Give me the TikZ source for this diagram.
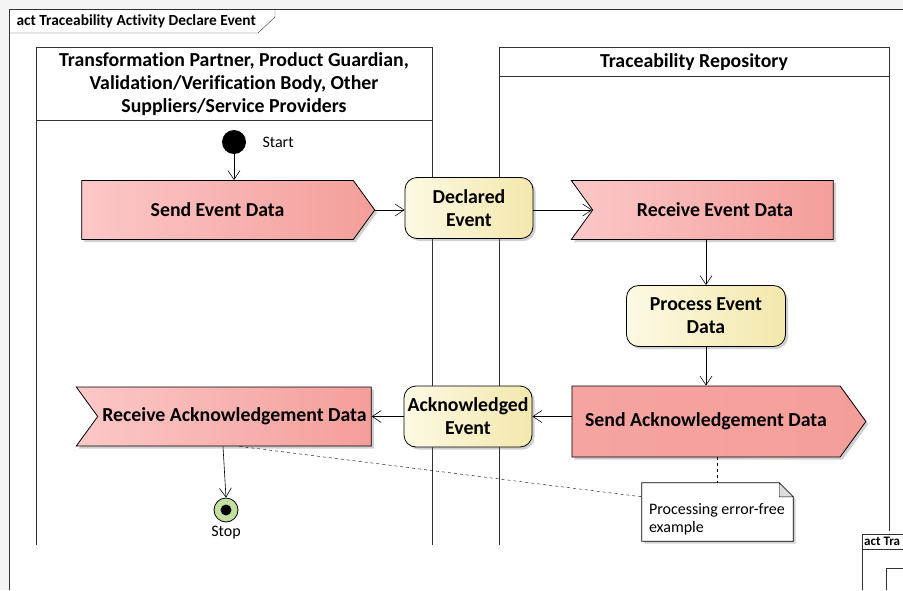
\documentclass[tikz,border=0pt]{standalone}
\usepackage{fontspec}
\setmainfont[Ligatures=NoCommon]{Carlito}
\usetikzlibrary{shapes.symbols,shadows,arrows.meta}

\definecolor{rosepale}{RGB}{251,200,200}
\definecolor{rosefonce}{RGB}{244,158,154}
\definecolor{jaunepale}{RGB}{252,249,228}
\definecolor{jaunefonce}{RGB}{243,232,172}
\definecolor{vertfin}{RGB}{196,224,158}
\definecolor{grisfond}{RGB}{244,244,244}
\definecolor{grispli}{RGB}{221,221,221}
\definecolor{trait}{RGB}{50,50,50}

\begin{document}
\begin{tikzpicture}[x=1pt,y=-1pt]
		\tikzstyle{fleche}=[->,>={Straight Barb[length=9pt,width=12pt]},semithick]
		\tikzstyle{lien}=[dashed,thin]
		\tikzstyle{couloir}=[thick,draw=trait]
		\tikzstyle{gras}=[font=\bfseries\fontsize{19.8}{23}\selectfont]
		\tikzstyle{petit}=[font=\fontsize{16}{18}\selectfont]
		\tikzstyle{titre}=[font=\bfseries\fontsize{15.4}{18}\selectfont]
		\tikzstyle{entete}=[gras,align=center]
		\tikzstyle{ombre}=[drop shadow={shadow xshift=2.5pt,shadow yshift=-2.5pt,opacity=0.3,fill=black!60}]
		\tikzstyle{action}=[draw,thick,rounded corners=12pt,ombre,left color=jaunepale,right color=jaunefonce,minimum height=61pt,align=center,gras]
		\tikzstyle{envoi}=[draw,thick,signal,signal to=east,signal pointer angle=108,ombre,left color=rosepale,right color=rosefonce,minimum height=59pt,inner sep=0pt,gras]
		\tikzstyle{reception}=[envoi,signal to=nowhere,signal from=west]
		
		\useasboundingbox (0,0) rectangle (903,590);
		\fill[grisfond] (0,0) rectangle (903,590);
		\fill[white] (9,9) rectangle (903,590);
		
		% cadre
		\draw[trait] (9,590) -- (9,9) -- (903,9);
		\draw[trait] (9,33) -- (258,33) -- (275,17) -- (275,9);
		\node[anchor=west,titre] (Titre) at (13,21) {act Traceability Activity Declare Event};
		
		% couloirs
		\draw[couloir] (36,545) -- (36,47) -- (432,47) -- (432,545);
		\draw[couloir] (36,120) -- (432,120);
		\draw[couloir] (499,545) -- (499,47) -- (889,47) -- (889,531);
		\draw[couloir] (499,76) -- (889,76);
		\node[entete] (EnteteA) at (234,84) {Transformation Partner, Product Guardian,\\Validation/Verification Body, Other\\Suppliers/Service Providers};
		\node[entete] (EnteteB) at (694,62) {Traceability Repository};
		
		% noeuds
		\node[circle,fill=black,minimum size=24pt,inner sep=0pt] (Debut) at (234,142) {};
		\node[petit,anchor=west] (DebutTxt) at (259,142) {Start};
		\node[envoi,minimum width=293pt] (EnvoiEvt) at (217.5,210) {Send Event Data};
		\node[action,minimum width=128pt] (EvtDeclare) at (469,208) {Declared\\Event};
		\node[reception,minimum width=262pt] (RecEvt) at (713,210) {\hspace*{4pt}Receive Event Data};
		\node[action,minimum width=159pt] (Traiter) at (706,316) {Process Event\\Data};
		\node[envoi,minimum width=294pt,minimum height=71pt,left color=rosefonce!85!rosepale,middle color=rosepale,right color=rosefonce] (EnvoiAcq) at (706,421.5) {Send Acknowledgement Data};
		\node[action,minimum width=128pt] (EvtAcq) at (468,416.5) {Acknowledged\\Event};
		\node[reception,minimum width=295pt] (RecAcq) at (234.5,416.5) {Receive Acknowledgement Data};
		\node[circle,draw,thick,fill=vertfin,minimum size=24pt,inner sep=0pt] (Fin) at (226,510) {};
		\fill (Fin.center) circle (5.5pt);
		\node[petit,below=0pt] (FinTxt) at (Fin.south) {Stop};
		
		% note
		\node[minimum width=151pt,minimum height=58pt,inner sep=0pt] (Note) at (717.5,512) {};
		\draw[thick,fill=white,ombre] (Note.north west) -- ([xshift=-14pt]Note.north east) -- ([yshift=-14pt]Note.north east) -- (Note.south east) -- (Note.south west) -- cycle;
		\draw[fill=grispli] ([xshift=-14pt]Note.north east) -- ([xshift=-14pt,yshift=-14pt]Note.north east) -- ([yshift=-14pt]Note.north east) -- cycle;
		\node[petit,anchor=west,align=left,inner sep=0pt] (NoteTxt) at ([xshift=7pt,yshift=-7pt]Note.west) {Processing error-free\\example};
		
		% petit cadre en bas a droite
		\draw[trait,fill=white] (903,534) -- (862,534) -- (862,590);
		\draw[trait] (862,549) -- (903,549);
		\draw[trait] (903,568) -- (886,568) -- (886,590);
		\node[anchor=west,font=\bfseries\fontsize{13}{16}\selectfont,inner sep=0pt] (TitreB) at (864,541.5) {act Tra};
		
		% fleches
		\draw[fleche] (Debut)--(EnvoiEvt.north-|Debut);
		\draw[fleche] (EnvoiEvt.east)--(EvtDeclare.west|-EnvoiEvt.east);
		\draw[fleche] (EvtDeclare.east|-RecEvt.west)--(RecEvt.west);
		\draw[fleche] (RecEvt.south-|Traiter)--(Traiter.north);
		\draw[fleche] (Traiter.south)--(EnvoiAcq.north-|Traiter);
		\draw[fleche] (EnvoiAcq.west|-EvtAcq)--(EvtAcq.east);
		\draw[fleche] (EvtAcq.west)--(RecAcq.east|-EvtAcq);
		\draw[fleche] ([xshift=-11.5pt]RecAcq.south)--(Fin.north);
		\draw[lien] (EnvoiAcq.south-|Note)--(Note.north);
		\draw[lien] ([xshift=5pt]RecAcq.south)--([yshift=-14pt]Note.north west);
\end{tikzpicture}
\end{document}
